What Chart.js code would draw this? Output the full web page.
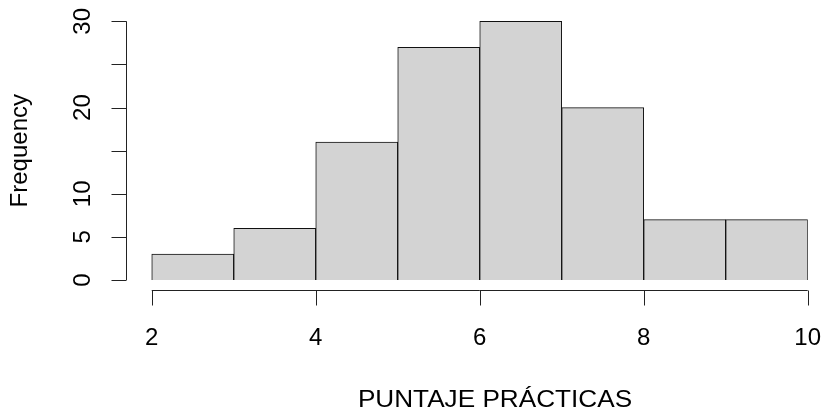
<!DOCTYPE html>
<html lang="es">
<head>
<meta charset="UTF-8">
<title>Histograma</title>
<script src="https://cdn.jsdelivr.net/npm/chart.js"></script>
<style>
  body { margin: 0; background: #fff; }
</style>
</head>
<body>
<canvas id="hist" width="825" height="416"></canvas>
<script>
const binStarts = [2, 3, 4, 5, 6, 7, 8, 9];
const frequencies = [3, 6, 16, 27, 30, 20, 7, 7];
const xTicks = [2, 4, 6, 8, 10];
const yTicks = [0, 5, 10, 15, 20, 25, 30];
const yTickLabels = ['0', '5', '10', '', '20', '', '30'];
const xTitle = 'PUNTAJE PRÁCTICAS';
const yTitle = 'Frequency';

const FONT = '24px "Liberation Sans", Arial, sans-serif';

// R style axes: detached lines with outward ticks
const rAxes = {
  id: 'rAxes',
  afterDraw(chart) {
    const ctx = chart.ctx;
    const xs = chart.scales.x, ys = chart.scales.y;
    const area = chart.chartArea;
    ctx.save();
    ctx.strokeStyle = '#222';
    ctx.lineWidth = 1;
    ctx.fillStyle = '#000';
    ctx.font = FONT;

    // y axis
    const ax = Math.round(area.left) + 0.5;
    ctx.beginPath();
    ctx.moveTo(ax, ys.getPixelForValue(yTicks[0]));
    ctx.lineTo(ax, ys.getPixelForValue(yTicks[yTicks.length - 1]));
    yTicks.forEach(v => {
      const py = Math.round(ys.getPixelForValue(v)) + 0.5;
      ctx.moveTo(ax, py);
      ctx.lineTo(ax - 15, py);
    });
    ctx.stroke();
    ctx.textAlign = 'center';
    ctx.textBaseline = 'alphabetic';
    yTicks.forEach((v, i) => {
      if (!yTickLabels[i]) return;
      ctx.save();
      ctx.translate(90, ys.getPixelForValue(v));
      ctx.rotate(-Math.PI / 2);
      ctx.fillText(yTickLabels[i], 0, 0);
      ctx.restore();
    });

    // x axis
    const ay = Math.round(area.bottom) + 0.5;
    ctx.beginPath();
    ctx.moveTo(xs.getPixelForValue(xTicks[0]), ay);
    ctx.lineTo(xs.getPixelForValue(xTicks[xTicks.length - 1]), ay);
    xTicks.forEach(v => {
      const px = Math.round(xs.getPixelForValue(v)) + 0.5;
      ctx.moveTo(px, ay);
      ctx.lineTo(px, ay + 15);
    });
    ctx.stroke();
    xTicks.forEach(v => {
      ctx.fillText(String(v), xs.getPixelForValue(v), 345);
    });

    // titles
    ctx.save();
    ctx.translate(495, 407);
    ctx.scale(1.09, 1);
    ctx.fillText(xTitle, 0, 0);
    ctx.restore();
    ctx.save();
    ctx.translate(27, (area.top + area.bottom) / 2);
    ctx.rotate(-Math.PI / 2);
    ctx.fillText(yTitle, 0, 0);
    ctx.restore();
    ctx.restore();
  }
};

new Chart(document.getElementById('hist'), {
  type: 'bar',
  data: {
    datasets: [{
      data: binStarts.map((s, i) => ({ x: s + 0.5, y: frequencies[i] })),
      backgroundColor: '#d3d3d3',
      borderColor: '#111',
      borderWidth: 1,
      barPercentage: 1,
      categoryPercentage: 1
    }]
  },
  options: {
    responsive: false,
    animation: false,
    layout: { padding: { left: 125.5, right: 17.3, top: 11, bottom: 125.6 } },
    plugins: { legend: { display: false }, tooltip: { enabled: false } },
    scales: {
      x: { type: 'linear', min: 1.68, max: 10, offset: false, display: false },
      y: { type: 'linear', min: -1.2, max: 31.2, display: false }
    }
  },
  plugins: [rAxes]
});
</script>
</body>
</html>
